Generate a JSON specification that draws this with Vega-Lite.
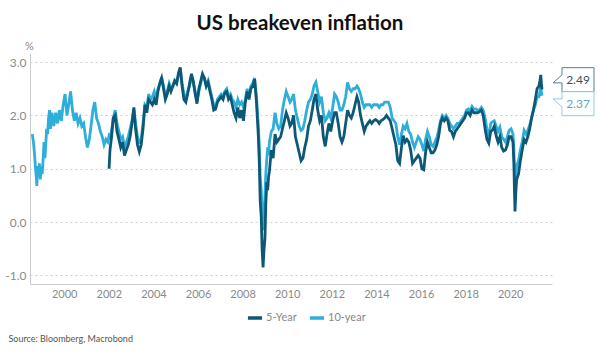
{
"$schema": "https://vega.github.io/schema/vega-lite/v6.json",
"width": 522, "height": 231,
"autosize": {"type": "none"},
"padding": {"left": 30, "top": 53, "right": 48, "bottom": 75},
"background": "white",
"config": {"view": {"stroke": null}, "font": "Lato"},
"title": {"text": "US breakeven inflation", "fontSize": 20.5, "fontWeight": "bold", "font": "Lato", "color": "#111111", "anchor": "middle", "frame": "group", "baseline": "alphabetic", "offset": 10, "dy": 20, "dx": 9},
"layer": [
{
"data": {"values": [
{"d":"1998-07-28","b":1.65},{"d":"1998-08-15","b":1.5},{"d":"1998-09-01","b":1.3},{"d":"1998-09-15","b":1.05},{"d":"1998-10-01","b":0.85},{"d":"1998-10-10","b":0.68},{"d":"1998-10-22","b":1.05},{"d":"1998-11-05","b":0.85},{"d":"1998-11-20","b":1.1},{"d":"1998-12-05","b":0.8},{"d":"1998-12-20","b":1.05},
{"d":"1999-01-05","b":0.9},{"d":"1999-01-20","b":1.15},{"d":"1999-02-05","b":1.5},{"d":"1999-02-20","b":1.2},{"d":"1999-03-05","b":1.45},{"d":"1999-03-20","b":1.75},{"d":"1999-04-05","b":1.65},{"d":"1999-04-20","b":1.95},{"d":"1999-05-05","b":2.1},{"d":"1999-05-20","b":1.75},{"d":"1999-06-15","b":2.05},{"d":"1999-07-15","b":1.8},{"d":"1999-08-15","b":2.05},{"d":"1999-09-15","b":1.85},{"d":"1999-10-15","b":2.1},{"d":"1999-11-15","b":1.9},{"d":"1999-12-15","b":2.2},
{"d":"2000-01-15","b":2.4},{"d":"2000-02-15","b":2.0},{"d":"2000-03-15","b":2.2},{"d":"2000-04-15","b":2.45},{"d":"2000-05-15","b":2.1},{"d":"2000-06-15","b":1.9},{"d":"2000-07-15","b":2.05},{"d":"2000-08-15","b":1.85},{"d":"2000-09-15","b":1.95},{"d":"2000-10-15","b":1.8},{"d":"2000-11-15","b":1.85},{"d":"2000-12-15","b":1.6},
{"d":"2001-01-15","b":1.4},{"d":"2001-02-15","b":1.55},{"d":"2001-03-15","b":1.8},{"d":"2001-04-15","b":2.1},{"d":"2001-05-15","b":2.25},{"d":"2001-06-15","b":1.95},{"d":"2001-07-15","b":1.85},{"d":"2001-08-15","b":1.7},{"d":"2001-09-15","b":1.6},{"d":"2001-10-15","b":1.45},{"d":"2001-11-15","b":1.55},{"d":"2001-12-15","b":1.5},
{"d":"2002-01-05","a":1.0,"b":1.62},{"d":"2002-01-20","a":1.35,"b":1.6},{"d":"2002-02-15","a":1.6,"b":1.72},{"d":"2002-03-15","a":1.95,"b":1.95},{"d":"2002-04-15","a":2.0,"b":2.1},{"d":"2002-05-15","a":1.7,"b":1.85},{"d":"2002-06-15","a":1.55,"b":1.7},{"d":"2002-07-15","a":1.4,"b":1.55},{"d":"2002-08-15","a":1.5,"b":1.6},{"d":"2002-09-15","a":1.25,"b":1.4},{"d":"2002-10-15","a":1.35,"b":1.5},{"d":"2002-11-15","a":1.45,"b":1.6},{"d":"2002-12-15","a":1.6,"b":1.75},
{"d":"2003-01-15","a":1.85,"b":1.9},{"d":"2003-02-15","a":2.15,"b":2.12},{"d":"2003-03-15","a":1.75,"b":1.85},{"d":"2003-04-15","a":1.45,"b":1.6},{"d":"2003-05-15","a":1.32,"b":1.5},{"d":"2003-06-15","a":1.45,"b":1.55},{"d":"2003-07-15","a":1.75,"b":1.85},{"d":"2003-08-15","a":2.2,"b":2.2},{"d":"2003-09-15","a":2.05,"b":2.15},{"d":"2003-10-15","a":2.3,"b":2.4},{"d":"2003-11-15","a":2.25,"b":2.3},{"d":"2003-12-15","a":2.2,"b":2.35},
{"d":"2004-01-15","a":2.3,"b":2.45},{"d":"2004-02-15","a":2.2,"b":2.3},{"d":"2004-03-15","a":2.45,"b":2.5},{"d":"2004-04-15","a":2.6,"b":2.6},{"d":"2004-05-15","a":2.7,"b":2.72},{"d":"2004-06-15","a":2.5,"b":2.55},{"d":"2004-07-15","a":2.3,"b":2.35},{"d":"2004-08-15","a":2.4,"b":2.45},{"d":"2004-09-15","a":2.55,"b":2.6},{"d":"2004-10-15","a":2.45,"b":2.5},{"d":"2004-11-15","a":2.55,"b":2.55},{"d":"2004-12-15","a":2.65,"b":2.65},
{"d":"2005-01-15","a":2.6,"b":2.6},{"d":"2005-02-15","a":2.8,"b":2.75},{"d":"2005-03-15","a":2.9,"b":2.88},{"d":"2005-04-15","a":2.55,"b":2.6},{"d":"2005-05-15","a":2.3,"b":2.4},{"d":"2005-06-15","a":2.25,"b":2.3},{"d":"2005-07-15","a":2.4,"b":2.45},{"d":"2005-08-15","a":2.6,"b":2.55},{"d":"2005-09-15","a":2.78,"b":2.72},{"d":"2005-10-15","a":2.65,"b":2.6},{"d":"2005-11-15","a":2.4,"b":2.45},{"d":"2005-12-15","a":2.22,"b":2.28},
{"d":"2006-01-15","a":2.5,"b":2.45},{"d":"2006-02-15","a":2.65,"b":2.6},{"d":"2006-03-15","a":2.78,"b":2.75},{"d":"2006-04-15","a":2.7,"b":2.7},{"d":"2006-05-15","a":2.55,"b":2.55},{"d":"2006-06-15","a":2.62,"b":2.65},{"d":"2006-07-15","a":2.45,"b":2.5},{"d":"2006-08-15","a":2.3,"b":2.35},{"d":"2006-09-15","a":2.1,"b":2.2},{"d":"2006-10-15","a":2.12,"b":2.15},{"d":"2006-11-15","a":2.25,"b":2.3},{"d":"2006-12-15","a":2.3,"b":2.35},
{"d":"2007-01-15","a":2.35,"b":2.4},{"d":"2007-02-15","a":2.3,"b":2.35},{"d":"2007-03-15","a":2.42,"b":2.45},{"d":"2007-04-15","a":2.45,"b":2.5},{"d":"2007-05-15","a":2.3,"b":2.35},{"d":"2007-06-15","a":2.35,"b":2.4},{"d":"2007-07-15","a":2.2,"b":2.3},{"d":"2007-08-15","a":2.05,"b":2.25},{"d":"2007-09-15","a":1.95,"b":2.15},{"d":"2007-10-15","a":2.15,"b":2.3},{"d":"2007-11-15","a":1.95,"b":2.2},{"d":"2007-12-15","a":2.1,"b":2.25},
{"d":"2008-01-15","a":1.9,"b":2.15},{"d":"2008-02-15","a":2.25,"b":2.3},{"d":"2008-03-15","a":2.45,"b":2.5},{"d":"2008-04-15","a":2.3,"b":2.35},{"d":"2008-05-15","a":2.5,"b":2.55},{"d":"2008-06-15","a":2.55,"b":2.6},{"d":"2008-07-15","a":2.68,"b":2.7},{"d":"2008-08-15","a":2.25,"b":2.35},{"d":"2008-09-15","a":1.6,"b":1.8},{"d":"2008-10-01","a":1.1,"b":1.4},{"d":"2008-10-15","a":0.4,"b":0.85},{"d":"2008-11-01","a":0.1,"b":0.6},{"d":"2008-11-15","a":-0.5,"b":0.2},{"d":"2008-12-01","a":-0.85,"b":-0.15},{"d":"2008-12-15","a":-0.55,"b":0.1},
{"d":"2009-01-01","a":-0.3,"b":0.5},{"d":"2009-01-15","a":0.35,"b":0.9},{"d":"2009-02-01","a":0.75,"b":1.2},{"d":"2009-02-15","a":0.6,"b":1.4},{"d":"2009-03-01","a":0.85,"b":1.25},{"d":"2009-03-15","a":0.95,"b":1.5},{"d":"2009-04-15","a":1.35,"b":1.7},{"d":"2009-05-15","a":1.2,"b":1.75},{"d":"2009-06-15","a":1.65,"b":2.05},{"d":"2009-07-15","a":1.5,"b":1.85},{"d":"2009-08-15","a":1.55,"b":1.75},{"d":"2009-09-15","a":1.6,"b":1.8},{"d":"2009-10-15","a":1.75,"b":2.1},{"d":"2009-11-15","a":1.9,"b":2.3},{"d":"2009-12-15","a":2.05,"b":2.45},
{"d":"2010-01-15","a":1.95,"b":2.35},{"d":"2010-02-15","a":1.8,"b":2.25},{"d":"2010-03-15","a":1.85,"b":2.3},{"d":"2010-04-15","a":2.0,"b":2.4},{"d":"2010-05-15","a":1.6,"b":2.1},{"d":"2010-06-15","a":1.45,"b":1.95},{"d":"2010-07-15","a":1.3,"b":1.8},{"d":"2010-08-15","a":1.15,"b":1.72},{"d":"2010-09-15","a":1.2,"b":1.75},{"d":"2010-10-15","a":1.4,"b":1.9},{"d":"2010-11-15","a":1.55,"b":2.1},{"d":"2010-12-15","a":1.8,"b":2.25},
{"d":"2011-01-15","a":1.9,"b":2.3},{"d":"2011-02-15","a":2.1,"b":2.4},{"d":"2011-03-15","a":2.3,"b":2.55},{"d":"2011-04-15","a":2.4,"b":2.62},{"d":"2011-05-15","a":2.1,"b":2.45},{"d":"2011-06-15","a":1.9,"b":2.25},{"d":"2011-07-15","a":2.0,"b":2.35},{"d":"2011-08-15","a":1.6,"b":2.05},{"d":"2011-09-15","a":1.42,"b":1.9},{"d":"2011-10-15","a":1.65,"b":1.95},{"d":"2011-11-15","a":1.85,"b":2.05},{"d":"2011-12-15","a":1.7,"b":1.95},
{"d":"2012-01-15","a":1.9,"b":2.15},{"d":"2012-02-15","a":2.05,"b":2.4},{"d":"2012-03-15","a":2.05,"b":2.35},{"d":"2012-04-15","a":1.85,"b":2.25},{"d":"2012-05-15","a":1.6,"b":2.1},{"d":"2012-06-15","a":1.5,"b":2.1},{"d":"2012-07-15","a":1.6,"b":2.2},{"d":"2012-08-15","a":1.85,"b":2.35},{"d":"2012-09-15","a":2.1,"b":2.62},{"d":"2012-10-15","a":2.0,"b":2.5},{"d":"2012-11-15","a":1.95,"b":2.45},{"d":"2012-12-15","a":2.05,"b":2.5},
{"d":"2013-01-15","a":2.2,"b":2.5},{"d":"2013-02-15","a":2.35,"b":2.55},{"d":"2013-03-15","a":2.25,"b":2.5},{"d":"2013-04-15","a":2.0,"b":2.4},{"d":"2013-05-15","a":1.85,"b":2.25},{"d":"2013-06-15","a":1.7,"b":2.15},{"d":"2013-07-15","a":1.8,"b":2.2},{"d":"2013-08-15","a":1.85,"b":2.2},{"d":"2013-09-15","a":1.9,"b":2.2},{"d":"2013-10-15","a":1.85,"b":2.15},{"d":"2013-11-15","a":1.9,"b":2.2},{"d":"2013-12-15","a":1.92,"b":2.2},
{"d":"2014-01-15","a":1.9,"b":2.2},{"d":"2014-02-15","a":1.85,"b":2.15},{"d":"2014-03-15","a":1.9,"b":2.2},{"d":"2014-04-15","a":1.92,"b":2.2},{"d":"2014-05-15","a":1.95,"b":2.25},{"d":"2014-06-15","a":2.0,"b":2.25},{"d":"2014-07-15","a":1.95,"b":2.25},{"d":"2014-08-15","a":1.9,"b":2.15},{"d":"2014-09-15","a":1.75,"b":1.95},{"d":"2014-10-15","a":1.6,"b":1.9},{"d":"2014-11-15","a":1.45,"b":1.85},{"d":"2014-12-15","a":1.15,"b":1.6},
{"d":"2015-01-15","a":1.1,"b":1.45},{"d":"2015-02-15","a":1.4,"b":1.65},{"d":"2015-03-15","a":1.62,"b":1.8},{"d":"2015-04-15","a":1.5,"b":1.75},{"d":"2015-05-15","a":1.55,"b":1.85},{"d":"2015-06-15","a":1.5,"b":1.7},{"d":"2015-07-15","a":1.35,"b":1.65},{"d":"2015-08-15","a":1.1,"b":1.5},{"d":"2015-09-15","a":1.15,"b":1.4},{"d":"2015-10-15","a":1.2,"b":1.5},{"d":"2015-11-15","a":1.25,"b":1.6},{"d":"2015-12-15","a":1.2,"b":1.55},
{"d":"2016-01-15","a":1.0,"b":1.45},{"d":"2016-02-15","a":0.98,"b":1.33},{"d":"2016-03-15","a":1.3,"b":1.55},{"d":"2016-04-15","a":1.5,"b":1.7},{"d":"2016-05-15","a":1.4,"b":1.6},{"d":"2016-06-15","a":1.3,"b":1.45},{"d":"2016-07-15","a":1.3,"b":1.42},{"d":"2016-08-15","a":1.35,"b":1.5},{"d":"2016-09-15","a":1.45,"b":1.58},{"d":"2016-10-15","a":1.6,"b":1.72},{"d":"2016-11-15","a":1.85,"b":1.9},{"d":"2016-12-15","a":1.95,"b":2.0},
{"d":"2017-01-15","a":1.9,"b":1.95},{"d":"2017-02-15","a":1.95,"b":2.0},{"d":"2017-03-15","a":1.9,"b":1.95},{"d":"2017-04-15","a":1.72,"b":1.85},{"d":"2017-05-15","a":1.7,"b":1.8},{"d":"2017-06-15","a":1.6,"b":1.75},{"d":"2017-07-15","a":1.7,"b":1.8},{"d":"2017-08-15","a":1.75,"b":1.85},{"d":"2017-09-15","a":1.8,"b":1.85},{"d":"2017-10-15","a":1.85,"b":1.9},{"d":"2017-11-15","a":1.9,"b":1.95},{"d":"2017-12-15","a":1.95,"b":2.0},
{"d":"2018-01-15","a":2.05,"b":2.1},{"d":"2018-02-15","a":2.05,"b":2.12},{"d":"2018-03-15","a":2.0,"b":2.08},{"d":"2018-04-15","a":2.1,"b":2.17},{"d":"2018-05-15","a":2.05,"b":2.12},{"d":"2018-06-15","a":2.05,"b":2.12},{"d":"2018-07-15","a":2.05,"b":2.1},{"d":"2018-08-15","a":2.07,"b":2.1},{"d":"2018-09-15","a":2.1,"b":2.15},{"d":"2018-10-15","a":2.0,"b":2.1},{"d":"2018-11-15","a":1.75,"b":1.95},{"d":"2018-12-15","a":1.55,"b":1.75},
{"d":"2019-01-15","a":1.48,"b":1.6},{"d":"2019-02-15","a":1.7,"b":1.85},{"d":"2019-03-15","a":1.72,"b":1.88},{"d":"2019-04-15","a":1.8,"b":1.9},{"d":"2019-05-15","a":1.62,"b":1.8},{"d":"2019-06-15","a":1.5,"b":1.7},{"d":"2019-07-15","a":1.6,"b":1.78},{"d":"2019-08-15","a":1.4,"b":1.6},{"d":"2019-09-15","a":1.33,"b":1.55},{"d":"2019-10-15","a":1.35,"b":1.5},{"d":"2019-11-15","a":1.45,"b":1.6},{"d":"2019-12-15","a":1.6,"b":1.72},
{"d":"2020-01-15","a":1.6,"b":1.75},{"d":"2020-02-15","a":1.5,"b":1.65},{"d":"2020-03-01","a":1.1,"b":1.35},{"d":"2020-03-10","a":0.6,"b":0.95},{"d":"2020-03-19","a":0.2,"b":0.55},{"d":"2020-04-01","a":0.55,"b":0.9},{"d":"2020-04-15","a":0.8,"b":1.05},{"d":"2020-05-15","a":0.9,"b":1.15},{"d":"2020-06-15","a":1.15,"b":1.35},{"d":"2020-07-15","a":1.35,"b":1.5},{"d":"2020-08-15","a":1.55,"b":1.72},{"d":"2020-09-15","a":1.5,"b":1.65},{"d":"2020-10-15","a":1.6,"b":1.72},{"d":"2020-11-15","a":1.75,"b":1.82},{"d":"2020-12-15","a":1.95,"b":1.95},
{"d":"2021-01-15","a":2.1,"b":2.1},{"d":"2021-02-15","a":2.3,"b":2.2},{"d":"2021-03-15","a":2.5,"b":2.35},{"d":"2021-04-15","a":2.55,"b":2.35},{"d":"2021-05-01","a":2.65,"b":2.45},{"d":"2021-05-15","a":2.76,"b":2.55},{"d":"2021-05-25","a":2.6,"b":2.45},{"d":"2021-06-04","a":2.49,"b":2.37}
]},
"transform": [{"fold": ["a", "b"], "as": ["s", "v"]}, {"filter": "datum.v != null"}],
"mark": {"type": "line", "strokeWidth": 2.8},
"encoding": {
"x": {"field": "d", "type": "temporal",
 "scale": {"domain": [{"year": 1998, "month": 6, "date": 20}, {"year": 2021, "month": 11, "date": 15}]},
 "axis": {"title": "Source: Bloomberg, Macrobond", "titleFont": "Lato", "titleFontSize": 9, "titleFontWeight": "normal", "titleColor": "#555555", "titleAnchor": "start", "titleAlign": "left", "titleX": -22, "titleY": 57, "titleBaseline": "alphabetic",
  "tickCount": {"interval": "year", "step": 2}, "format": "%Y", "labelFontSize": 11, "labelColor": "#8a8a8a", "labelPadding": 4, "ticks": false, "grid": false, "domainColor": "#cccccc", "labelFlush": false, "labelOverlap": false}},
"y": {"field": "v", "type": "quantitative",
 "scale": {"domain": [-1.16, 3.17], "nice": false, "zero": false},
 "axis": {"title": "%", "titleAngle": 0, "titleX": -1, "titleY": -4, "titleAlign": "center", "titleBaseline": "alphabetic", "titleFontSize": 11, "titleFontWeight": "normal", "titleColor": "#8a8a8a",
  "values": [-1, -0.5, 0, 0.5, 1, 1.5, 2, 2.5, 3], "labelExpr": "(datum.value < 0 ? '-' : '') + format(abs(datum.value), '.1f')", "labelFontSize": 12, "labelColor": "#8a8a8a", "labelPadding": 4, "ticks": false, "grid": true, "gridColor": "#cfcfcf", "gridDash": [2, 3], "domainColor": "#cccccc"}},
"color": {"field": "s", "type": "nominal", "scale": {"domain": ["a", "b"], "range": ["#0e5877", "#2eaed8"]},
 "legend": {"orient": "none", "legendX": 216, "legendY": 256, "direction": "horizontal", "title": null, "symbolType": "stroke", "symbolSize": 200, "symbolStrokeWidth": 3.5, "labelFontSize": 11, "labelColor": "#888888", "labelExpr": "datum.label == 'a' ? '5-Year' : '10-year'", "labelOffset": 2, "columnPadding": 5, "padding": 0}}
}
},
{
"data": {"values": [{"d": "2021-06-04", "v": 2.49}]},
"encoding": {"x": {"field": "d", "type": "temporal"}, "y": {"field": "v", "type": "quantitative"}},
"layer": [
 {"mark": {"type": "point", "shape": "M-1,-0.75L1,-0.75L1,0.75L-1,0.75L-1,0.2L-1.56,0.2L-1,-0.3Z", "size": 1024, "filled": true, "fill": "white", "stroke": "#4d8299", "strokeWidth": 1, "opacity": 1, "xOffset": 36, "yOffset": -9.6}},
 {"mark": {"type": "text", "dx": 36, "dy": -9.6, "fontSize": 12, "color": "#2f5566", "align": "center", "baseline": "middle"}, "encoding": {"text": {"field": "v", "type": "quantitative", "format": ".2f"}}}
]
},
{
"data": {"values": [{"d": "2021-06-04", "v": 2.37}]},
"encoding": {"x": {"field": "d", "type": "temporal"}, "y": {"field": "v", "type": "quantitative"}},
"layer": [
 {"mark": {"type": "point", "shape": "M-1,-0.75L1,-0.75L1,0.75L-1,0.75L-1,0.2L-1.56,-0.3L-1,-0.3Z", "size": 1024, "filled": true, "fill": "white", "stroke": "#8ccde3", "strokeWidth": 1, "opacity": 1, "xOffset": 36, "yOffset": 8}},
 {"mark": {"type": "text", "dx": 36, "dy": 8, "fontSize": 12, "color": "#5aa9c4", "align": "center", "baseline": "middle"}, "encoding": {"text": {"field": "v", "type": "quantitative", "format": ".2f"}}}
]
}
]
}
